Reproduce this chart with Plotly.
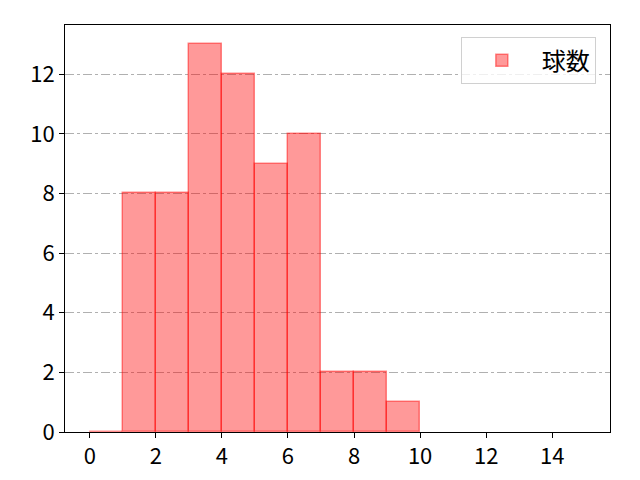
import plotly.graph_objects as go

# histogram bins (left edges) and counts
bin_left = list(range(0, 10))
counts = [0, 8, 8, 13, 12, 9, 10, 2, 2, 1]
x_ticks = [0, 2, 4, 6, 8, 10, 12, 14]
y_ticks = [0, 2, 4, 6, 8, 10, 12]

centers = [b + 0.5 for b in bin_left]

fig = go.Figure()
fig.add_trace(
    go.Bar(
        x=centers,
        y=counts,
        width=1,
        name="球数",
        marker=dict(
            color="rgba(255, 0, 0, 0.4)",
            line=dict(color="rgba(255, 0, 0, 0.45)", width=1.5),
        ),
    )
)

# page body adds an 8px offset, so margins are shifted to compensate
fig.update_layout(
    width=640,
    height=480,
    margin=dict(l=57, r=38, t=17, b=56),
    plot_bgcolor="white",
    paper_bgcolor="white",
    font=dict(family="Noto Sans CJK JP", size=22, color="black"),
    bargap=0,
    showlegend=True,
    legend=dict(
        x=0.974, y=0.97, xanchor="right", yanchor="top",
        bordercolor="#d0d0d0", borderwidth=1,
        bgcolor="rgba(255,255,255,0.8)",
        font=dict(size=24),
        itemwidth=70,
    ),
)

fig.update_xaxes(
    range=[-0.75, 15.75],
    tickvals=x_ticks,
    ticks="outside", ticklen=5, tickcolor="black",
    showline=True, linecolor="black", linewidth=1, mirror=True,
    showgrid=False, zeroline=False, automargin=False,
)
fig.update_yaxes(
    range=[0, 13.65],
    tickvals=y_ticks,
    ticks="outside", ticklen=5, tickcolor="black",
    showline=True, linecolor="black", linewidth=1, mirror=True,
    showgrid=True, gridcolor="#b0b0b0", griddash="dashdot", gridwidth=1,
    zeroline=False, automargin=False,
    layer="above traces",
)

fig.write_html("out.html")
